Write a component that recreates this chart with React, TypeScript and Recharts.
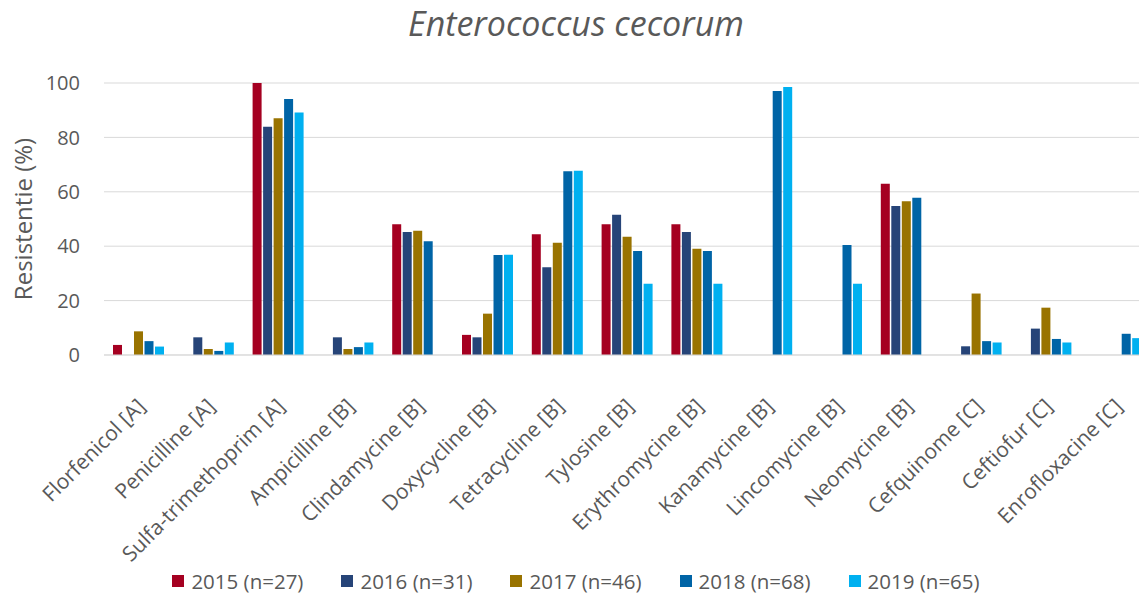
import React from "react";
import { BarChart, Bar, XAxis, YAxis, CartesianGrid, Legend } from "recharts";

const categories = [
  "Florfenicol [A]",
  "Penicilline [A]",
  "Sulfa-trimethoprim [A]",
  "Ampicilline [B]",
  "Clindamycine [B]",
  "Doxycycline [B]",
  "Tetracycline [B]",
  "Tylosine [B]",
  "Erythromycine [B]",
  "Kanamycine [B]",
  "Lincomycine [B]",
  "Neomycine [B]",
  "Cefquinome [C]",
  "Ceftiofur [C]",
  "Enrofloxacine [C]",
];

const v2015 = [3.7, 0, 100, 0, 48.1, 7.4, 44.4, 48.1, 48.1, null, null, 63.0, null, null, null];
const v2016 = [0, 6.5, 83.9, 6.5, 45.2, 6.5, 32.3, 51.6, 45.2, null, null, 54.8, 3.2, 9.7, null];
const v2017 = [8.7, 2.2, 87.0, 2.2, 45.7, 15.2, 41.3, 43.5, 39.1, null, null, 56.5, 22.6, 17.4, null];
const v2018 = [5.1, 1.5, 94.1, 2.9, 41.8, 36.8, 67.6, 38.2, 38.2, 97.1, 40.4, 57.8, 5.1, 5.9, 7.8];
const v2019 = [3.1, 4.6, 89.2, 4.6, 0, 36.9, 67.7, 26.2, 26.2, 98.5, 26.2, 0, 4.6, 4.6, 6.2];

const yTicks = [0, 20, 40, 60, 80, 100];

const series = [
  { key: "s2015", name: "2015 (n=27)", color: "#A50021" },
  { key: "s2016", name: "2016 (n=31)", color: "#264478" },
  { key: "s2017", name: "2017 (n=46)", color: "#997300" },
  { key: "s2018", name: "2018 (n=68)", color: "#0064A6" },
  { key: "s2019", name: "2019 (n=65)", color: "#00B0F0" },
];

const data = categories.map((name, i) => ({
  name,
  s2015: v2015[i],
  s2016: v2016[i],
  s2017: v2017[i],
  s2018: v2018[i],
  s2019: v2019[i],
}));

const FONT = "'Open Sans', sans-serif";
const TEXT = "#595959";

function XTick({ x, y, payload }: any) {
  return (
    <text
      transform={`translate(${x + 2},${y + 45}) rotate(-45)`}
      textAnchor="end"
      dominantBaseline="central"
      fontSize={21}
      fontFamily={FONT}
      fill={TEXT}
    >
      {payload.value}
    </text>
  );
}

function LegendContent() {
  return (
    <div
      style={{
        width: 1152,
        height: 40,
        paddingTop: 4,
        boxSizing: "border-box",
        display: "flex",
        justifyContent: "center",
        alignItems: "center",
        gap: 38,
        fontFamily: FONT,
        fontSize: 20.5,
        color: TEXT,
      }}
    >
      {series.map((s) => (
        <div key={s.key} style={{ display: "flex", alignItems: "center" }}>
          <span style={{ width: 12, height: 12, background: s.color, marginRight: 7 }} />
          <span>{s.name}</span>
        </div>
      ))}
    </div>
  );
}

export default function App() {
  return (
    <div
      style={{
        position: "absolute",
        left: 0,
        top: 0,
        width: 1139,
        height: 599,
        overflow: "hidden",
        background: "#fff",
      }}
    >
      <div
        style={{
          position: "absolute",
          top: 0,
          left: 0,
          width: 1152,
          textAlign: "center",
          fontFamily: FONT,
          fontStyle: "italic",
          fontSize: 34,
          color: TEXT,
        }}
      >
        Enterococcus cecorum
      </div>
      <BarChart
        width={1165}
        height={599}
        data={data}
        margin={{ top: 83, right: 14, left: 0, bottom: 0 }}
        barCategoryGap={9}
        barGap={1.5}
      >
        <CartesianGrid vertical={false} stroke="#D9D9D9" />
        <XAxis
          dataKey="name"
          interval={0}
          height={204}
          tickLine={false}
          tickSize={0}
          axisLine={{ stroke: "#D9D9D9" }}
          tick={<XTick />}
        />
        <YAxis
          width={104}
          domain={[0, 100]}
          ticks={yTicks}
          axisLine={false}
          tickLine={false}
          tickSize={0}
          tickMargin={24}
          tick={{ fontSize: 20, fontFamily: FONT, fill: TEXT }}
          label={{
            content: ({ viewBox }: any) => (
              <text
                x={22}
                y={viewBox.y + viewBox.height / 2}
                transform={`rotate(-90, 22, ${viewBox.y + viewBox.height / 2})`}
                textAnchor="middle"
                dominantBaseline="central"
                fontSize={24}
                fontFamily={FONT}
                fill={TEXT}
              >
                Resistentie (%)
              </text>
            ),
          }}
        />
        <Legend
          verticalAlign="bottom"
          wrapperStyle={{ left: 0 }}
          content={<LegendContent />}
        />
        {series.map((s) => (
          <Bar
            key={s.key}
            dataKey={s.key}
            name={s.name}
            fill={s.color}
            isAnimationActive={false}
          />
        ))}
      </BarChart>
    </div>
  );
}
